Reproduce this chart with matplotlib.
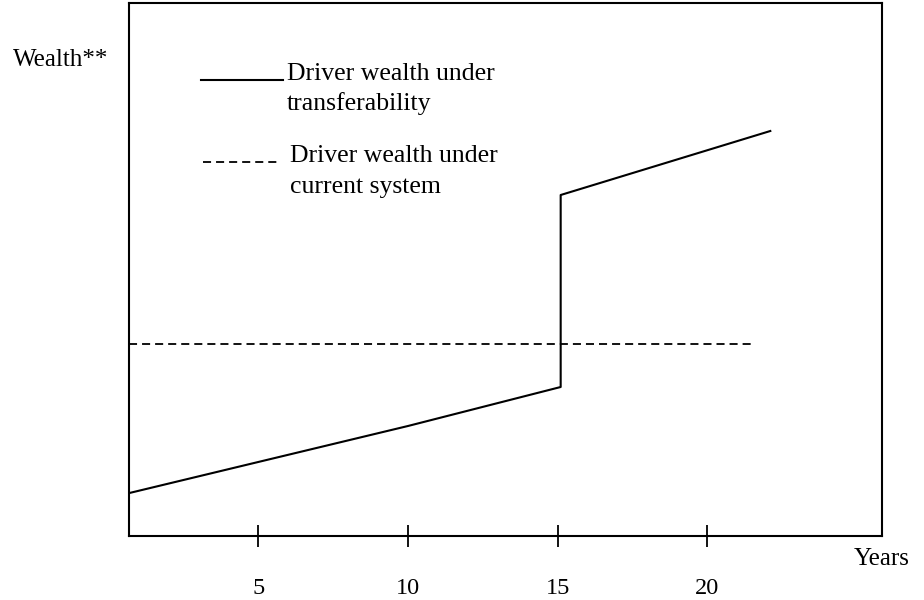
import matplotlib.pyplot as plt

plt.rcParams['font.family'] = ['Liberation Serif', 'DejaVu Serif']
plt.rcParams['lines.scale_dashes'] = False

# Data (years, wealth in arbitrary units)
years_transfer = [0.7, 5, 10, 15.1, 15.1, 22.1]
wealth_transfer = [43, 74, 110, 149, 341, 405]
years_current = [0.7, 21.5]
wealth_current = [192, 192]
tick_years = [5, 10, 15, 20]
tick_labels = ['5', '10', '15', '20']

fig = plt.figure(figsize=(9.24, 6), dpi=100)
ax = fig.add_axes([129 / 924, 64 / 600, 753 / 924, 533 / 600])

ax.plot(years_transfer, wealth_transfer, color='black', lw=1.5)
ax.plot(years_current, wealth_current, color='black', lw=1.3, dashes=(5.8, 3.6))

ax.set_xlim(0.685, 25.83)
ax.set_ylim(0, 533)
ax.set_xticks(tick_years)
ax.set_xticklabels(tick_labels, fontsize=17.5)
ax.set_yticks([])
ax.tick_params(axis='x', direction='inout', length=16, width=1.3, pad=22)
for s in ax.spines.values():
    s.set_linewidth(1.5)

# legend drawn by hand
fs = 18.5
ax.plot([0.0956, 0.2045], [0.8555, 0.8555], transform=ax.transAxes, color='black', lw=1.5)
ax.text(0.2098, 0.8555, 'Driver wealth under', transform=ax.transAxes,
        fontsize=fs, va='baseline', ha='left')
ax.text(0.2098, 0.8555 - 30 / 533, 'transferability', transform=ax.transAxes,
        fontsize=fs, va='baseline', ha='left')
ax.plot([0.0982, 0.2005], [0.7017, 0.7017], transform=ax.transAxes, color='black', lw=1.3,
        dashes=(5.8, 3.6))
ax.text(0.2138, 0.7017, 'Driver wealth under', transform=ax.transAxes,
        fontsize=fs, va='baseline', ha='left')
ax.text(0.2138, 0.7017 - 31 / 533, 'current system', transform=ax.transAxes,
        fontsize=fs, va='baseline', ha='left')

ax.text(0.963, -0.054, 'Years', transform=ax.transAxes, fontsize=18, va='baseline')
fig.text(13 / 924, 1 - 66 / 600, 'Wealth**', fontsize=18, va='baseline')

fig.savefig('out.png', dpi=100)
